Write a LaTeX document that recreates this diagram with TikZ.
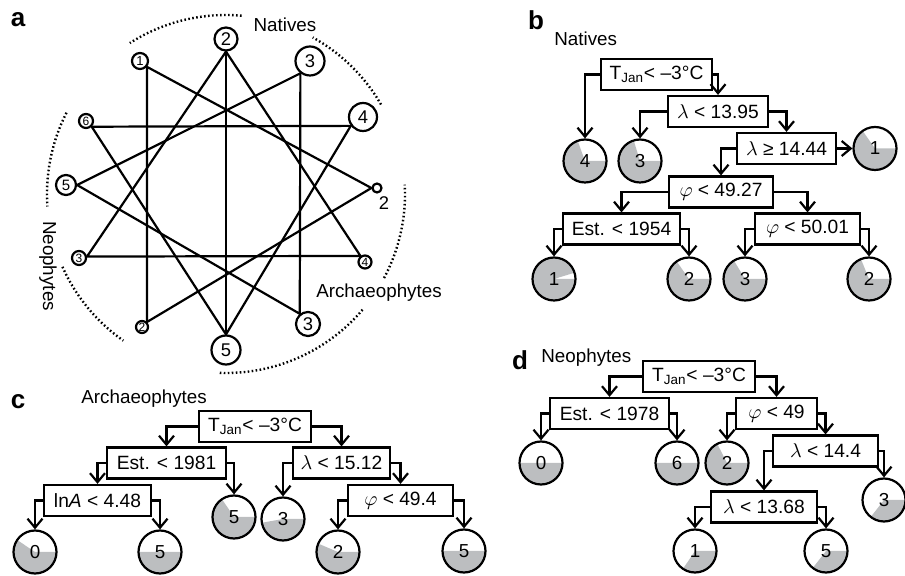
\documentclass[tikz,border=0pt]{standalone}
\usepackage{fontspec}
\setmainfont{Liberation Sans}
\usetikzlibrary{arrows.meta}
\definecolor{piegray}{RGB}{188,190,192}
\begin{document}
\begin{tikzpicture}[x=0.5pt,y=-0.5pt,
  lw/.style={line width=1.1pt},
  dots/.style={line width=1.2pt, dash pattern=on 0.8pt off 1.2pt},
  pn/.style={circle, draw, line width=1.1pt, fill=white, inner sep=0pt},
  big/.style={font=\fontsize{9.2}{10}\selectfont},
  small/.style={font=\fontsize{6}{7}\selectfont},
  lab/.style={font=\fontsize{9.4}{10}\selectfont, inner sep=0pt},
  panel/.style={font=\fontsize{13}{14}\selectfont\bfseries, inner sep=0pt},
  box/.style={draw, line width=1.1pt, fill=white, minimum height=15.5pt, inner sep=0pt, font=\fontsize{9.6}{10}\selectfont},
  leaf/.style={circle, draw, line width=1.1pt, minimum size=21.5pt, inner sep=0pt, font=\fontsize{9.4}{10}\selectfont,
     path picture={\fill[piegray] (path picture bounding box.center) -- ++(#1:15pt) arc[start angle=#1, end angle=360, radius=15pt] -- cycle;}},
  arr/.style={line width=1.1pt, -{Straight Barb[length=4.5pt,width=7.5pt]}}
]
\useasboundingbox (0,0) rectangle (905,576);

% ---------------- panel a ----------------
\node[panel] (la) at (18,20) {a};
\coordinate (ac) at (226,194);
\node[pn, big, minimum size=11.5pt] (k0) at (226,39) {2};
\node[pn, big, minimum size=14.5pt] (k1) at (310,61) {3};
\node[pn, big, minimum size=14pt] (k2) at (363,117) {4};
\node[pn, minimum size=4.5pt] (k3) at (377,188) {};
\node[pn, small, minimum size=6.5pt] (k4) at (365,262) {4};
\node[pn, big, minimum size=12pt] (k5) at (308,324) {3};
\node[pn, big, minimum size=14.5pt] (k6) at (226,350) {5};
\node[pn, small, minimum size=6pt] (k7) at (142,327) {2};
\node[pn, small, minimum size=7pt] (k8) at (79,258) {3};
\node[pn, font=\fontsize{7.5}{8}\selectfont, minimum size=10pt] (k9) at (66,185) {5};
\node[pn, small, minimum size=7pt] (k10) at (86,121) {6};
\node[pn, font=\fontsize{6.5}{7}\selectfont, minimum size=8pt] (k11) at (140,61) {1};

\draw[lw] (k0.270) -- (k4.127) -- (k8.10) -- cycle;
\draw[lw] (k1.232) -- (k5.129) -- (k9.0) -- cycle;
\draw[lw] (k2.216) -- (k6.90) -- (k10.315) -- cycle;
\draw[lw] (k3.180) -- (k7.45) -- (k11.320) -- cycle;
\draw[lw] (k0.270) -- (k6.90);

\node[lab, big] (a2) at (384,203) {2};
\node[lab] (tnat) at (285,25) {Natives};
\node[lab] (tarc) at (379,293) {Archaeophytes};
\node[lab, rotate=-90] (tneo) at (48,266) {Neophytes};

\draw[dots] (ac) ++(85:89.5pt) arc[start angle=85, end angle=122.5, radius=89.5pt];
\draw[dots] (ac) ++(30:89.5pt) arc[start angle=30, end angle=61, radius=89.5pt];
\draw[dots] (ac) ++(-28:89.5pt) arc[start angle=-28, end angle=3, radius=89.5pt];
\draw[dots] (ac) ++(-92:89.5pt) arc[start angle=-92, end angle=-40, radius=89.5pt];
\draw[dots] (ac) ++(153:89.5pt) arc[start angle=153, end angle=184, radius=89.5pt];
\draw[dots] (ac) ++(204:89.5pt) arc[start angle=204, end angle=235, radius=89.5pt];

% ---------------- panel b ----------------
\node[panel] (lb) at (536,20) {b};
\node[lab, anchor=west] (hb) at (554,39) {Natives};
\node[box, minimum width=55.5pt] (bT) at (656.5,74.5) {T\textsubscript{Jan}< –3°C};
\node[box, minimum width=50pt] (bL1) at (718,111.5) {$\lambda$ < 13.95};
\node[box, minimum width=49.5pt] (bL2) at (786.5,148.5) {$\lambda$ ≥ 14.44};
\node[box, minimum width=52pt] (bP1) at (721,192) {$\varphi$ < 49.27};
\node[box, minimum width=58.5pt] (bE) at (621.5,229) {Est. < 1954};
\node[box, minimum width=52.5pt] (bP2) at (807.5,229) {$\varphi$ < 50.01};
\node[leaf=110] (b4) at (585,161) {4};
\node[leaf=107] (b3) at (640,161) {3};
\node[leaf=125] (b1r) at (875,148.5) {1};
\node[leaf=17] (b1) at (554,279) {1};
\node[leaf=125] (b2) at (689,279) {2};
\node[leaf=121] (b3b) at (745,279) {3};
\node[leaf=112] (b2r) at (869,279) {2};
\draw[arr] (bT.west) -| (b4.north);
\draw[arr] (bT.east) -| (bL1.north);
\draw[arr] (bL1.west) -| (b3.north);
\draw[arr] (bL1.east) -| (bL2.north);
\draw[arr] (bL2.west) -| (bP1.north);
\draw[arr] (bL2.east) -- (b1r.west);
\draw[arr] (bP1.west) -| (bE.north);
\draw[arr] (bP1.east) -| (bP2.north);
\draw[arr] (bE.west) -| (b1.north);
\draw[arr] (bE.east) -| (b2.north);
\draw[arr] (bP2.west) -| (b3b.north);
\draw[arr] (bP2.east) -| (b2r.north);

% ---------------- panel c ----------------
\node[panel] (lc) at (18,402) {c};
\node[lab, anchor=west] (hc) at (81,399) {Archaeophytes};
\node[box, minimum width=56pt] (cT) at (255,426.5) {T\textsubscript{Jan}< –3°C};
\node[box, minimum width=59.5pt] (cE) at (166.5,463) {Est. < 1981};
\node[box, minimum width=48.5pt] (cL) at (341.5,463) {$\lambda$ < 15.12};
\node[box, minimum width=53.5pt] (cA) at (97.5,500.5) {ln\textit{A} < 4.48};
\node[box, minimum width=52.5pt] (cP) at (400.5,500.5) {$\varphi$ < 49.4};
\node[leaf=124] (c5a) at (234,517) {5};
\node[leaf=190] (c3) at (283,519) {3};
\node[leaf=146] (c0) at (35,552) {0};
\node[leaf=180] (c5b) at (160,552) {5};
\node[leaf=157] (c2) at (338,552) {2};
\node[leaf=180] (c5c) at (464,551) {5};
\draw[arr] (cT.west) -| (cE.north);
\draw[arr] (cT.east) -| (cL.north);
\draw[arr] (cE.west) -| (cA.north);
\draw[arr] (cE.east) -| (c5a.north);
\draw[arr] (cL.west) -| (c3.north);
\draw[arr] (cL.east) -| (cP.north);
\draw[arr] (cA.west) -| (c0.north);
\draw[arr] (cA.east) -| (c5b.north);
\draw[arr] (cP.west) -| (c2.north);
\draw[arr] (cP.east) -| (c5c.north);

% ---------------- panel d ----------------
\node[panel] (ld) at (520,360) {d};
\node[lab, anchor=west] (hd) at (541,358) {Neophytes};
\node[box, minimum width=56pt] (dT) at (699,376.5) {T\textsubscript{Jan}< –3°C};
\node[box, minimum width=59.5pt] (dE) at (609.5,413.5) {Est. < 1978};
\node[box, minimum width=40.5pt] (dP) at (776.5,413.5) {$\varphi$ < 49};
\node[box, minimum width=52.5pt] (dL1) at (825.5,451) {$\lambda$ < 14.4};
\node[box, minimum width=53pt] (dL2) at (764,507) {$\lambda$ < 13.68};
\node[leaf=180] (d0) at (541,463) {0};
\node[leaf=180] (d6) at (677,463) {6};
\node[leaf=117] (d2) at (727,463) {2};
\node[leaf=232] (d3) at (884,500) {3};
\node[leaf=236] (d1) at (695,551) {1};
\node[leaf=232] (d5) at (826,551) {5};
\draw[arr] (dT.west) -| (dE.north);
\draw[arr] (dT.east) -| (dP.north);
\draw[arr] (dE.west) -| (d0.north);
\draw[arr] (dE.east) -| (d6.north);
\draw[arr] (dP.west) -| (d2.north);
\draw[arr] (dP.east) -| (dL1.north);
\draw[arr] (dL1.west) -| (dL2.north);
\draw[arr] (dL1.east) -| (d3.north);
\draw[arr] (dL2.west) -| (d1.north);
\draw[arr] (dL2.east) -| (d5.north);
\end{tikzpicture}
\end{document}
